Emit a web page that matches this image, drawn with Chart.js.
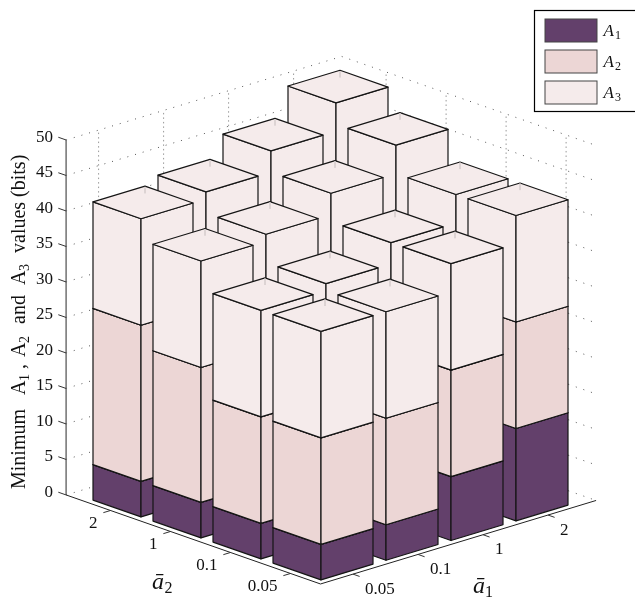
<!DOCTYPE html>
<html>
<head>
<meta charset="utf-8">
<title>Minimum A1, A2, A3</title>
<script src="https://cdn.jsdelivr.net/npm/chart.js@4"></script>
<style>
    html, body { margin: 0; padding: 0; background: #fff; }
    canvas { display: block; }
</style>
</head>
<body>
<canvas id="grafico3d" width="635" height="597"></canvas>
<script>
// tick labels
const categoriasA1 = ['0.05', '0.1', '1', '2'];
const categoriasA2 = ['0.05', '0.1', '1', '2'];
const ticksZ = [0, 5, 10, 15, 20, 25, 30, 35, 40, 45, 50];

// linha = a1, coluna = a2
const valoresA1 = [
    [5, 5, 5, 5],
    [5, 6, 6, 6],
    [9, 9, 9, 9],
    [13, 13, 13, 13]
];
const valoresA2 = [
    [15, 15, 19, 22],
    [15, 15, 19, 22],
    [15, 15, 19, 22],
    [15, 15, 19, 22]
];
const valoresA3 = [
    [15, 15, 15, 15],
    [15, 15, 15, 15],
    [15, 15, 15, 15],
    [15, 15, 15, 15]
];

const series = [
    { nome: '1', valores: valoresA1, cor: '#63406b' },
    { nome: '2', valores: valoresA2, cor: '#ecd6d5' },
    { nome: '3', valores: valoresA3, cor: '#f5ebeb' }
];

// --------- projecao: (u, v, z) -> plano das escalas ---------
const PX_Z = 7.1;
const LARGURA = 0.4;
const MIN_UV = -0.5;
const MAX_UV = 3.74;
const FONTE = '"Liberation Serif", "Times New Roman", serif';

function proj(u, v, z) {
    return {
        x: 323 + 65 * u - 60 * v,
        y: z + (19.7 * u + 21 * v) / PX_Z
    };
}

let datasets = [];
let ordem = 1000;

function linha(pontos, cor, largura, dash) {
    datasets.push({
        data: pontos,
        showLine: true,
        fill: false,
        borderColor: cor,
        borderWidth: largura,
        borderDash: dash,
        pointRadius: 0,
        clip: false,
        order: ordem--
    });
}

function face(pontos, cor) {
    datasets.push({
        data: pontos.concat([pontos[0]]),
        showLine: true,
        fill: 'shape',
        backgroundColor: cor,
        borderColor: '#151515',
        borderWidth: 1.2,
        borderJoinStyle: 'round',
        pointRadius: 0,
        clip: false,
        order: ordem--
    });
}

// --------- paredes do fundo (pontilhado) ---------
for (let i = 0; i < ticksZ.length; i++) {
    const z = ticksZ[i];
    linha([proj(MIN_UV, MAX_UV, z), proj(MAX_UV, MAX_UV, z), proj(MAX_UV, MIN_UV, z)], '#555', 1, [1, 7]);
}
for (let i = 0; i < categoriasA1.length; i++) {
    linha([proj(i, MAX_UV, 0), proj(i, MAX_UV, 50)], '#999', 1, [1.5, 3]);
}
for (let j = 0; j < categoriasA2.length; j++) {
    linha([proj(MAX_UV, j, 0), proj(MAX_UV, j, 50)], '#999', 1, [1.5, 3]);
}

// --------- eixos ---------
linha([proj(MIN_UV, MAX_UV, 0), proj(MIN_UV, MAX_UV, 50)], '#666', 1.4);
linha([proj(MIN_UV, MAX_UV, 0), proj(MIN_UV, MIN_UV, 0), proj(MAX_UV, MIN_UV, 0)], '#222', 1);
for (let i = 0; i < ticksZ.length; i++) {
    linha([proj(MIN_UV, MAX_UV, ticksZ[i]), proj(MIN_UV, MAX_UV + 0.13, ticksZ[i])], '#333', 1);
}
for (let j = 0; j < categoriasA2.length; j++) {
    linha([proj(MIN_UV, j, 0), proj(MIN_UV - 0.11, j, 0)], '#333', 1);
}
for (let i = 0; i < categoriasA1.length; i++) {
    linha([proj(i, MIN_UV, 0), proj(i, MIN_UV - 0.11, 0)], '#333', 1);
}

// --------- barras, de tras para frente ---------
let barras = [];
for (let i = 0; i < categoriasA1.length; i++) {
    for (let j = 0; j < categoriasA2.length; j++) {
        barras.push({ i: i, j: j });
    }
}
barras.sort((a, b) => (b.i + b.j) - (a.i + a.j));

for (let k = 0; k < barras.length; k++) {
    const u = barras[k].i;
    const v = barras[k].j;
    let base = 0;
    const u0 = u - LARGURA, u1 = u + LARGURA, v0 = v - LARGURA, v1 = v + LARGURA;
    for (let s = 0; s < series.length; s++) {
        const topo = base + series[s].valores[u][v];
        const cor = series[s].cor;
        face([proj(u0, v1, base), proj(u0, v0, base), proj(u0, v0, topo), proj(u0, v1, topo)], cor);
        face([proj(u0, v0, base), proj(u1, v0, base), proj(u1, v0, topo), proj(u0, v0, topo)], cor);
        face([proj(u0, v0, topo), proj(u1, v0, topo), proj(u1, v1, topo), proj(u0, v1, topo)], cor);
        base = topo;
    }
    // marca clara que sai do vertice de tras
    linha([proj(u1, v1, base - 0.1), proj(u1, v1, base - 1)], '#d9d0d0', 1);
}

function texto(ctx, str, x, y, fonte, alinhamento, linhaBase) {
    ctx.font = fonte;
    ctx.textAlign = alinhamento || 'left';
    ctx.textBaseline = linhaBase || 'alphabetic';
    ctx.fillText(str, x, y);
}

const textosPlugin = {
    id: 'textosPlugin',
    afterDraw(chart) {
        const ctx = chart.ctx;
        const sx = chart.scales.x;
        const sy = chart.scales.y;
        const px = p => ({ x: sx.getPixelForValue(p.x), y: sy.getPixelForValue(p.y) });

        ctx.save();
        ctx.fillStyle = '#111';

        // ticks z
        for (let i = 0; i < ticksZ.length; i++) {
            const p = px(proj(MIN_UV, MAX_UV, ticksZ[i]));
            texto(ctx, String(ticksZ[i]), p.x - 13, p.y - 2.5, '17px ' + FONTE, 'right', 'middle');
        }
        // ticks a2 e a1
        for (let j = 0; j < categoriasA2.length; j++) {
            const p = px(proj(MIN_UV, j, 0));
            texto(ctx, categoriasA2[j], p.x - 13, p.y + 13.5, '17px ' + FONTE, 'right', 'middle');
        }
        for (let i = 0; i < categoriasA1.length; i++) {
            const p = px(proj(i, MIN_UV, 0));
            texto(ctx, categoriasA1[i], p.x + 12, p.y + 15, '17px ' + FONTE, 'left', 'middle');
        }

        // titulos dos eixos
        texto(ctx, 'ā', 152, 589, 'italic 24px ' + FONTE);
        texto(ctx, '2', 164.5, 593, '16px ' + FONTE);
        texto(ctx, 'ā', 473, 593, 'italic 24px ' + FONTE);
        texto(ctx, '1', 485, 597, '16px ' + FONTE);

        // eixo z, rotacionado
        ctx.save();
        ctx.translate(25, 489);
        ctx.rotate(-Math.PI / 2);
        const f = '20px ' + FONTE;
        const fs = '14px ' + FONTE;
        texto(ctx, 'Minimum', 0, 0, f);
        texto(ctx, 'A', 94, 0, f);
        texto(ctx, '1', 108, 4, fs);
        texto(ctx, ',', 120, 0, f);
        texto(ctx, 'A', 132, 0, f);
        texto(ctx, '2', 146, 4, fs);
        texto(ctx, 'and', 165, 0, f);
        texto(ctx, 'A', 204, 0, f);
        texto(ctx, '3', 218, 4, fs);
        texto(ctx, 'values (bits)', 236, 0, f);
        ctx.restore();

        // legenda (a caixa passa da borda direita da imagem)
        ctx.fillStyle = '#fff';
        ctx.fillRect(534.5, 10.5, 110, 101);
        ctx.strokeStyle = '#000';
        ctx.lineWidth = 1.2;
        ctx.strokeRect(534.5, 10.5, 110, 101);
        const ys = [19, 50, 81];
        for (let s = 0; s < series.length; s++) {
            ctx.fillStyle = series[s].cor;
            ctx.fillRect(545, ys[s], 52, 23);
            ctx.strokeStyle = '#444';
            ctx.lineWidth = 1;
            ctx.strokeRect(545, ys[s], 52, 23);
            ctx.fillStyle = '#111';
            texto(ctx, 'A', 603.5, ys[s] + 17, 'italic 17px ' + FONTE);
            texto(ctx, series[s].nome, 615, ys[s] + 20, '12px ' + FONTE);
        }
        ctx.restore();
    }
};

window.onload = () => {
    new Chart(document.getElementById('grafico3d'), {
        type: 'scatter',
        data: { datasets: datasets },
        plugins: [textosPlugin],
        options: {
            responsive: false,
            animation: false,
            events: [],
            layout: { padding: 0 },
            elements: { line: { tension: 0 } },
            plugins: {
                legend: { display: false },
                title: { display: false },
                tooltip: { enabled: false }
            },
            scales: {
                x: { type: 'linear', min: 0, max: 635, display: false },
                y: { type: 'linear', min: -4.7, max: 79.39, display: false }
            }
        }
    });
};
</script>
</body>
</html>
